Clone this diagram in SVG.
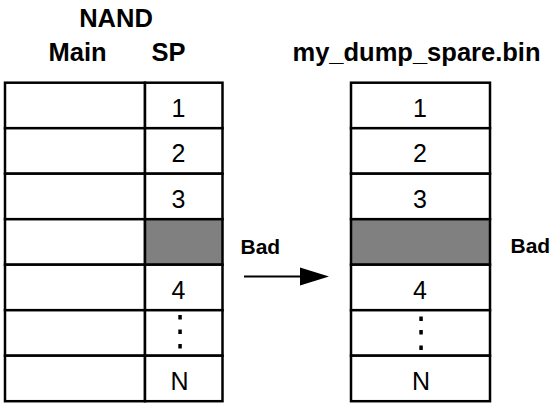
<svg xmlns="http://www.w3.org/2000/svg" width="557" height="404" viewBox="0 0 557 404">
<style>
.h{font-family:"Liberation Sans",Arial,sans-serif;font-weight:bold;font-size:25.5px;fill:#000;text-anchor:middle}
.b{font-family:"Liberation Sans",Arial,sans-serif;font-weight:bold;font-size:21px;fill:#000}
.n{font-family:"Liberation Sans",Arial,sans-serif;font-size:25px;fill:#000;text-anchor:middle}
.cell{fill:#fff;stroke:#000;stroke-width:2.5}
.bad{fill:#808080;stroke:#000;stroke-width:2.5}
.dot{fill:#000}
</style>
<rect width="557" height="404" fill="#fff"/>
<g id="headers">
<text class="h" x="116" y="26.7">NAND</text>
<text class="h" x="77.5" y="60.5">Main</text>
<text class="h" x="168.5" y="60.5">SP</text>
<text class="h" x="416.5" y="61">my_dump_spare.bin</text>
</g>
<g id="nand">
<rect class="cell" x="5" y="82.7" width="140" height="45.5"/>
<rect class="cell" x="5" y="128.2" width="140" height="45.5"/>
<rect class="cell" x="5" y="173.7" width="140" height="45.5"/>
<rect class="cell" x="5" y="219.2" width="140" height="45.5"/>
<rect class="cell" x="5" y="264.7" width="140" height="45.5"/>
<rect class="cell" x="5" y="310.2" width="140" height="45.5"/>
<rect class="cell" x="5" y="355.7" width="140" height="45.5"/>
<rect class="cell" x="145" y="82.7" width="77.5" height="45.5"/>
<rect class="cell" x="145" y="128.2" width="77.5" height="45.5"/>
<rect class="cell" x="145" y="173.7" width="77.5" height="45.5"/>
<rect class="bad" x="145" y="219.2" width="77.5" height="45.5"/>
<rect class="cell" x="145" y="264.7" width="77.5" height="45.5"/>
<rect class="cell" x="145" y="310.2" width="77.5" height="45.5"/>
<rect class="cell" x="145" y="355.7" width="77.5" height="45.5"/>
<text class="n" x="178.5" y="116.5">1</text>
<text class="n" x="178.5" y="162">2</text>
<text class="n" x="178.5" y="207.5">3</text>
<text class="n" x="178.5" y="298.5">4</text>
<rect class="dot" x="178.3" y="315" width="3.5" height="4.5"/>
<rect class="dot" x="178.3" y="329.5" width="3.5" height="4.5"/>
<rect class="dot" x="178.3" y="344" width="3.5" height="4.5"/>
<text class="n" x="179.5" y="389.5">N</text>
</g>
<g id="dump">
<rect class="cell" x="351" y="82.7" width="139" height="45.5"/>
<rect class="cell" x="351" y="128.2" width="139" height="45.5"/>
<rect class="cell" x="351" y="173.7" width="139" height="45.5"/>
<rect class="bad" x="351" y="219.2" width="139" height="45.5"/>
<rect class="cell" x="351" y="264.7" width="139" height="45.5"/>
<rect class="cell" x="351" y="310.2" width="139" height="45.5"/>
<rect class="cell" x="351" y="355.7" width="139" height="45.5"/>
<text class="n" x="420" y="116.5">1</text>
<text class="n" x="420" y="162">2</text>
<text class="n" x="420" y="207.5">3</text>
<text class="n" x="420" y="298.5">4</text>
<rect class="dot" x="419.3" y="316.5" width="3.5" height="4.5"/>
<rect class="dot" x="419.3" y="330" width="3.5" height="4.5"/>
<rect class="dot" x="419.3" y="345.5" width="3.5" height="4.5"/>
<text class="n" x="421" y="389.5">N</text>
</g>
<g id="labels">
<text class="b" x="240.5" y="254">Bad</text>
<text class="b" x="510.5" y="252.5">Bad</text>
</g>
<g id="connectors">
<line x1="244" y1="276.5" x2="302" y2="276.5" stroke="#000" stroke-width="2"/>
<polygon points="300,267.5 329,276.5 300,285.5" fill="#000"/>
</g>
</svg>
